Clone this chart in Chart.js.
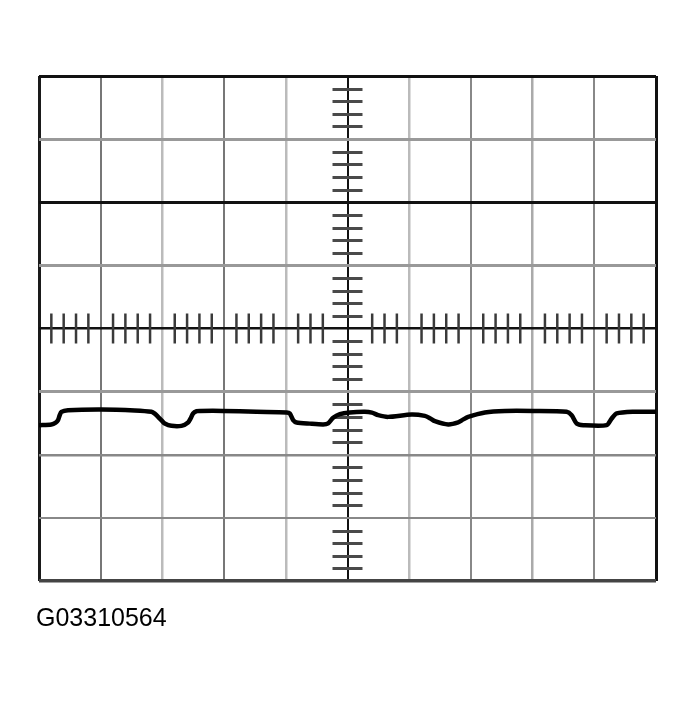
<!DOCTYPE html>
<html>
<head>
<meta charset="utf-8">
<script src="https://cdn.jsdelivr.net/npm/chart.js@4"></script>
<style>
  html, body { margin: 0; padding: 0; background: #fff; }
  #wrap { position: relative; width: 697px; height: 703px; }
  #cap { position: absolute; left: 36px; top: 603px; font-family: "Liberation Sans", Arial, sans-serif; font-size: 25px; color: #000; line-height: 28px; }
</style>
</head>
<body>
<div id="wrap">
  <canvas id="c" width="697" height="703"></canvas>
  <div id="cap"></div>
</div>
<script>
// ---- data (divisions: x 0..10, y -4..4) ----
const captionText = "G03310564";
const traceX = [0, 0.201, 0.271, 0.308, 0.336, 0.363, 0.470, 1.012, 1.552, 1.823, 1.876, 1.930, 1.990, 2.038, 2.147, 2.309, 2.416, 2.460, 2.497, 2.557, 2.606, 2.979, 3.525, 4.012, 4.065, 4.119, 4.174, 4.389, 4.605, 4.686, 4.767, 4.876, 5.038, 5.281, 5.395, 5.497, 5.659, 6.039, 6.254, 6.335, 6.416, 6.632, 6.794, 6.870, 6.956, 7.227, 7.551, 8.010, 8.552, 8.633, 8.714, 8.821, 9.200, 9.282, 9.363, 9.632, 10.0];
const traceY = [-1.531, -1.520, -1.491, -1.452, -1.373, -1.320, -1.294, -1.282, -1.298, -1.320, -1.349, -1.400, -1.460, -1.504, -1.542, -1.542, -1.488, -1.420, -1.346, -1.309, -1.305, -1.305, -1.320, -1.330, -1.346, -1.452, -1.488, -1.507, -1.520, -1.504, -1.415, -1.357, -1.330, -1.320, -1.333, -1.373, -1.400, -1.362, -1.384, -1.420, -1.468, -1.520, -1.488, -1.444, -1.400, -1.330, -1.305, -1.305, -1.320, -1.373, -1.504, -1.531, -1.531, -1.425, -1.346, -1.320, -1.320];
const xDivisions = [0, 1, 2, 3, 4, 5, 6, 7, 8, 9, 10];
const yDivisions = [-4, -3, -2, -1, 0, 1, 2, 3, 4];
// grid styles per division line
const xGridColors = ["#1a1a1a", "#777", "#bbb", "#777", "#bbb", "#111", "#bbb", "#888", "#aaa", "#888", "#111"];
const xGridWidths = [3, 2, 2.5, 2, 2.5, 2, 2.5, 2, 2.5, 2, 3];
const yGridColors = ["#444", "#888", "#888", "#999", "#111", "#999", "#111", "#999", "#111"];
const yGridWidths = [3.5, 2, 2.5, 3, 2.5, 3, 3, 3, 3];

document.getElementById('cap').textContent = captionText;

const points = traceX.map((x, i) => ({ x: x, y: traceY[i] }));

const graticule = {
  id: 'graticule',
  beforeDatasetsDraw(chart) {
    const ctx = chart.ctx;
    const xs = chart.scales.x, ys = chart.scales.y;
    const x0 = xs.getPixelForValue(5), y0 = ys.getPixelForValue(0);
    ctx.save();
    // ticks along vertical centre axis
    ctx.strokeStyle = '#4a4a4a';
    ctx.lineWidth = 3;
    for (let k = -20; k <= 20; k++) {
      if (k % 5 === 0) continue;
      const y = Math.round(ys.getPixelForValue(k / 5)) + 0.5;
      ctx.beginPath();
      ctx.moveTo(x0 - 15, y);
      ctx.lineTo(x0 + 15, y);
      ctx.stroke();
    }
    // ticks along horizontal centre axis
    ctx.strokeStyle = '#3a3a3a';
    ctx.lineWidth = 2.5;
    for (let k = 0; k <= 50; k++) {
      if (k % 5 === 0 || k === 24 || k === 26) continue;
      const x = xs.getPixelForValue(k / 5);
      ctx.beginPath();
      ctx.moveTo(x, y0 - 15);
      ctx.lineTo(x, y0 + 15);
      ctx.stroke();
    }
    ctx.restore();
  }
};

new Chart(document.getElementById('c'), {
  type: 'scatter',
  data: {
    datasets: [{
      data: points,
      showLine: true,
      borderColor: '#000',
      borderWidth: 4.5,
      pointRadius: 0,
      tension: 0.25,
      fill: false
    }]
  },
  options: {
    responsive: false,
    devicePixelRatio: 1,
    animation: false,
    layout: { padding: { left: 39, right: 41, top: 76, bottom: 122 } },
    plugins: { legend: { display: false }, tooltip: { enabled: false } },
    scales: {
      x: {
        type: 'linear',
        min: xDivisions[0], max: xDivisions[xDivisions.length - 1],
        afterBuildTicks: (s) => { s.ticks = xDivisions.map(v => ({ value: v })); },
        ticks: { display: false },
        border: { display: false },
        grid: {
          drawTicks: false,
          color: (c) => xGridColors[xDivisions.indexOf(c.tick.value)] || '#999',
          lineWidth: (c) => xGridWidths[xDivisions.indexOf(c.tick.value)] || 2
        }
      },
      y: {
        type: 'linear',
        min: yDivisions[0], max: yDivisions[yDivisions.length - 1],
        afterBuildTicks: (s) => { s.ticks = yDivisions.map(v => ({ value: v })); },
        ticks: { display: false },
        border: { display: false },
        grid: {
          drawTicks: false,
          color: (c) => yGridColors[yDivisions.indexOf(c.tick.value)] || '#999',
          lineWidth: (c) => yGridWidths[yDivisions.indexOf(c.tick.value)] || 2
        }
      }
    }
  },
  plugins: [graticule]
});
</script>
</body>
</html>
